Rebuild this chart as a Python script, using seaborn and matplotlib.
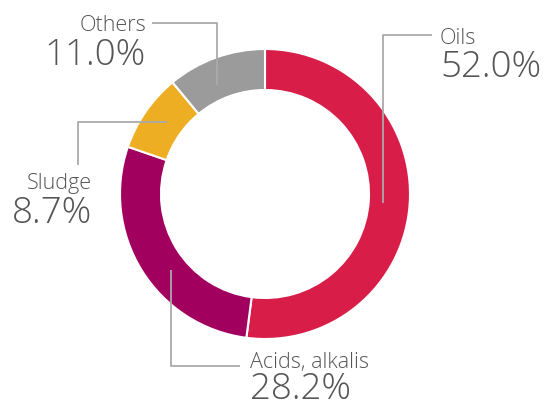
import matplotlib
matplotlib.use("Agg")
import matplotlib.pyplot as plt
import seaborn as sns
import numpy as np

categories = ["Oils", "Acids, alkalis", "Sludge", "Others"]
values = [52.0, 28.2, 8.7, 11.0]
pct_labels = ["52.0%", "28.2%", "8.7%", "11.0%"]
colors = ["#d81e48", "#a2005f", "#eeae24", "#9b9b9b"]

sns.set_style("white")
plt.rcParams['font.family'] = ['Open Sans', 'DejaVu Sans']

fig = plt.figure(figsize=(5.45, 4.08), dpi=100)
ax = fig.add_axes([0, 0, 1, 1])

cx, cy, R, W = 265, 194, 145, 41
# y axis inverted: pie drawn counterclockwise in data appears clockwise on screen
wedges, _ = ax.pie(values, colors=colors, startangle=-90, counterclock=True,
                   center=(cx, cy), radius=R, frame=True,
                   wedgeprops=dict(width=W, edgecolor="white", linewidth=1.5))
ax.set_xlim(0, 545)
ax.set_ylim(408, 0)
ax.set_aspect('equal')
ax.axis('off')

lc = "#aaaaaa"
lw = 1.3
txt = "#555555"
# leader lines: (path), label baseline position, percent baseline
leaders = {
    "Oils": ([(383, 203), (383, 35), (432, 35)], (440, 44, 77), 'left'),
    "Acids, alkalis": ([(171, 270), (171, 366), (240, 366)], (250, 368, 399), 'left'),
    "Sludge": ([(78, 165), (78, 122), (167, 122)], (92, 189, 223), 'right'),
    "Others": ([(152, 23), (217, 23), (217, 85)], (146, 31, 65), 'right'),
}
for cat, pct in zip(categories, pct_labels):
    path, (tx, ty, py), ha = leaders[cat]
    xs, ys = zip(*path)
    ax.plot(xs, ys, color=lc, lw=lw, solid_capstyle='butt')
    ax.text(tx, ty, cat, ha=ha, va='baseline', fontsize=15.5, color=txt,
            fontweight='light')
    ax.text(tx, py, pct, ha=ha, va='baseline', fontsize=26.5, color=txt,
            fontweight='light')

fig.savefig("out.png", dpi=100)
